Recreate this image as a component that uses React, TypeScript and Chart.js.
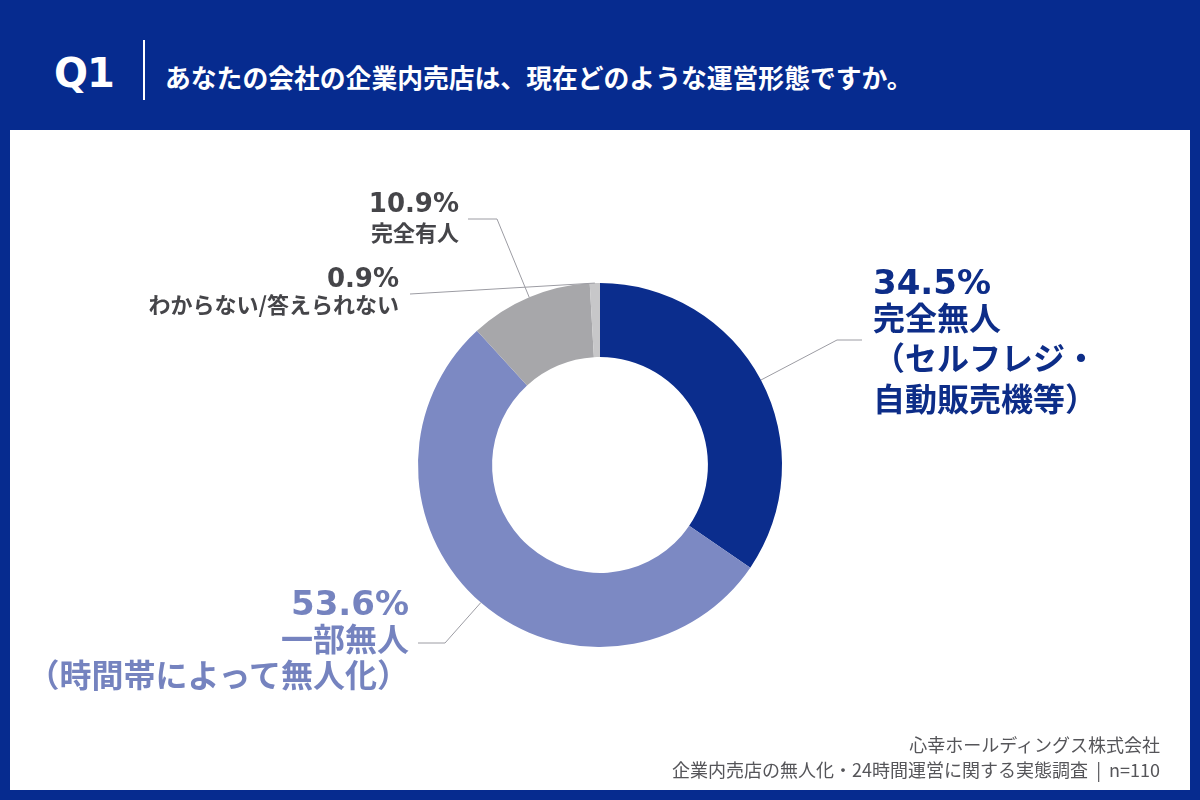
import React, { useEffect, useRef } from "react";
import { Chart, registerables } from "chart.js";

Chart.register(...registerables);

// ---- data ----
const categories = [
  "完全無人（セルフレジ・自動販売機等）",
  "一部無人（時間帯によって無人化）",
  "完全有人",
  "わからない/答えられない",
];
const values = [34.5, 53.6, 10.9, 0.9];
const sliceColors = ["#0b2d8d", "#7c89c3", "#a7a7aa", "#c7c7c9"];
const nameLines = [
  ["完全無人", "（セルフレジ・", "自動販売機等）"],
  ["一部無人", "（時間帯によって無人化）"],
  ["完全有人"],
  ["わからない/答えられない"],
];
const labelColors = ["#0d2d88", "#7583bf", "#454549", "#454549"];
const questionNo = "Q1";
const questionText = "あなたの会社の企業内売店は、現在どのような運営形態ですか。";
const footerLines = [
  "心幸ホールディングス株式会社",
  "企業内売店の無人化・24時間運営に関する実態調査 | n=110",
];

// ---- layout ----
const W = 1200;
const H = 800;
const BG = "#062b8f";
// leader line elbow/end points (canvas px), one per slice
const leaderLayout: { elbow: number[] | null; end: number[] }[] = [
  { elbow: [837, 340], end: [862, 340] },
  { elbow: [445, 643], end: [418, 643] },
  { elbow: [497, 219], end: [468, 219] },
  { elbow: null, end: [410, 294] },
];
// label blocks: anchor x, align, percent centre y, percent size, line centres, line size
const labelLayout = [
  { x: 873, align: "left", pctY: 284, pctSize: 34, lineYs: [318, 358, 399], lineSize: 32 },
  { x: 409, align: "right", pctY: 605, pctSize: 34, lineYs: [639, 675], lineSize: 32 },
  { x: 459, align: "right", pctY: 205, pctSize: 26, lineYs: [232], lineSize: 22 },
  { x: 399, align: "right", pctY: 280, pctSize: 26, lineYs: [304], lineSize: 22 },
];

const PCT_FONT = "'DejaVu Sans', sans-serif";
const JP_FONT = "'Noto Sans CJK JP', 'Noto Sans', sans-serif";

function Txt(props: {
  x: number;
  cy: number;
  size: number;
  align: string;
  color: string;
  font: string;
  weight?: number;
  children: any;
  spacing?: number;
}) {
  const { x, cy, size, align, color, font, weight, children, spacing } = props;
  const style: any = {
    position: "absolute",
    top: cy - size * 0.56,
    fontSize: size,
    lineHeight: `${size}px`,
    color,
    fontFamily: font,
    fontWeight: weight ?? 700,
    whiteSpace: "pre",
    letterSpacing: spacing ?? 0,
  };
  if (align === "right") style.right = W - x;
  else style.left = x;
  return <div style={style}>{children}</div>;
}

const leaderPlugin = {
  id: "leaders",
  afterDatasetsDraw(chart: any) {
    const ctx = chart.ctx;
    const meta = chart.getDatasetMeta(0);
    ctx.save();
    ctx.strokeStyle = "#9c9ca3";
    ctx.lineWidth = 1;
    meta.data.forEach((arc: any, i: number) => {
      const lay = leaderLayout[i];
      if (!lay) return;
      const { x, y, startAngle, endAngle, outerRadius } = arc.getProps(
        ["x", "y", "startAngle", "endAngle", "outerRadius"],
        true
      );
      const mid = (startAngle + endAngle) / 2;
      const px = x + Math.cos(mid) * outerRadius;
      const py = y + Math.sin(mid) * outerRadius;
      ctx.beginPath();
      ctx.moveTo(px, py);
      if (lay.elbow) ctx.lineTo(lay.elbow[0], lay.elbow[1]);
      ctx.lineTo(lay.end[0], lay.end[1]);
      ctx.stroke();
    });
    ctx.restore();
  },
};

export default function App() {
  const canvasRef = useRef<HTMLCanvasElement | null>(null);

  useEffect(() => {
    if (!canvasRef.current) return;
    const chart = new Chart(canvasRef.current, {
      type: "doughnut",
      data: {
        labels: categories,
        datasets: [
          {
            data: values,
            backgroundColor: sliceColors,
            borderWidth: 0,
          },
        ],
      },
      options: {
        responsive: false,
        animation: false,
        cutout: "59.3%",
        layout: { padding: { left: 418, right: 418, top: 283, bottom: 153 } },
        plugins: {
          legend: { display: false },
          tooltip: { enabled: false },
        },
      },
      plugins: [leaderPlugin],
    });
    return () => chart.destroy();
  }, []);

  return (
    <div
      style={{
        position: "fixed",
        left: 0,
        top: 0,
        width: W,
        height: H,
        background: BG,
        overflow: "hidden",
      }}
    >
      {/* header */}
      <div
        style={{
          position: "absolute",
          left: 54,
          top: 50,
          fontFamily: PCT_FONT,
          fontWeight: 700,
          fontSize: 40,
          lineHeight: "46px",
          color: "#ffffff",
          letterSpacing: -1,
        }}
      >
        {questionNo}
      </div>
      <div
        style={{
          position: "absolute",
          left: 143,
          top: 40,
          width: 2,
          height: 60,
          background: "#ffffff",
        }}
      />
      <Txt x={165} cy={78} size={25.8} align="left" color="#ffffff" font={JP_FONT}>
        {questionText}
      </Txt>

      {/* white panel */}
      <div
        style={{
          position: "absolute",
          left: 10,
          top: 130,
          width: 1180,
          height: 660,
          background: "#ffffff",
        }}
      />

      <canvas
        ref={canvasRef}
        width={W}
        height={H}
        style={{ position: "absolute", left: 0, top: 0, width: W, height: H }}
      />

      {/* slice labels */}
      {labelLayout.map((l, i) => (
        <React.Fragment key={i}>
          <Txt x={l.x} cy={l.pctY} size={l.pctSize} align={l.align} color={labelColors[i]} font={PCT_FONT}>
            {values[i].toFixed(1) + "%"}
          </Txt>
          {nameLines[i].map((t, j) => (
            <Txt
              key={j}
              x={l.x}
              cy={l.lineYs[j]}
              size={l.lineSize}
              align={l.align}
              color={labelColors[i]}
              font={JP_FONT}
            >
              {t}
            </Txt>
          ))}
        </React.Fragment>
      ))}

      {/* footer */}
      <Txt x={1160} cy={745} size={18} align="right" color="#555559" font={JP_FONT} weight={400}>
        {footerLines[0]}
      </Txt>
      <Txt x={1160} cy={770} size={18} align="right" color="#555559" font={JP_FONT} weight={400}>
        {footerLines[1].replace(" | ", "  |  ")}
      </Txt>
    </div>
  );
}
